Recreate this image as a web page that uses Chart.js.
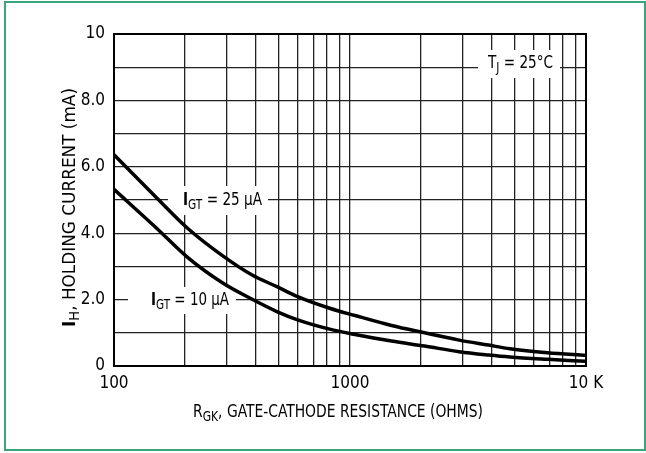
<!DOCTYPE html>
<html>
<head>
<meta charset="utf-8">
<script src="https://cdn.jsdelivr.net/npm/chart.js@4.4.1/dist/chart.umd.min.js"></script>
<style>
  html, body { margin: 0; padding: 0; background: #fff; }
  #wrap { position: relative; width: 646px; height: 453px; }
</style>
</head>
<body>
<div id="wrap"><canvas id="holdChart" width="646" height="453"></canvas></div>
<script>
// gate-cathode resistance (ohms)
const rgk = [100, 150, 205, 290, 385, 490, 600, 820, 1050, 1500, 2070, 2900, 3860, 4760, 6860, 10000];
// holding current (mA), one array per gate trigger current
const ih25 = [6.36, 5.1, 4.15, 3.31, 2.74, 2.39, 2.09, 1.74, 1.52, 1.22, 1.0, 0.78, 0.63, 0.52, 0.4, 0.32];
const ih10 = [5.32, 4.18, 3.27, 2.49, 2.01, 1.64, 1.39, 1.11, 0.95, 0.75, 0.6, 0.43, 0.33, 0.27, 0.2, 0.14];
// grid values on the log axis and labelled ones
const xGrid = [100, 200, 300, 400, 500, 600, 700, 800, 900, 1000, 2000, 3000, 4000, 5000, 6000, 7000, 8000, 9000, 10000];
const xLabels = { 100: '100', 1000: '1000', 10000: '10 K' };
const yLabels = { 0: '0', 2: '2.0', 4: '4.0', 6: '6.0', 8: '8.0', 10: '10' };

const FONT = "'Liberation Sans Narrow', 'DejaVu Sans Condensed', 'Arial Narrow', sans-serif";

function pts(ys) {
  return rgk.map((r, i) => ({ x: r, y: ys[i] }));
}

function partFont(p, size) {
  return (p.bold ? '900 ' : '') + (p.sub ? size * 0.78 : size) + 'px ' + FONT;
}

// text pieces drawn left to right from x, squeezed to width w (condensed look)
function drawRich(ctx, parts, x, y, size, w) {
  let nat = 0;
  for (const p of parts) {
    ctx.font = partFont(p, size);
    nat += ctx.measureText(p.t).width;
  }
  const k = w ? w / nat : 1;
  ctx.save();
  ctx.translate(x, y);
  ctx.scale(k, 1);
  ctx.textBaseline = 'middle';
  ctx.textAlign = 'left';
  let cx = 0;
  for (const p of parts) {
    ctx.font = partFont(p, size);
    ctx.fillText(p.t, cx, p.sub ? size * 0.3 : 0);
    cx += ctx.measureText(p.t).width;
  }
  ctx.restore();
}

const annotate = {
  id: 'annotate',
  beforeDatasetsDraw(chart) {
    const ctx = chart.ctx;
    ctx.save();
    ctx.fillStyle = '#fff';
    ctx.fillRect(478, 50, 82, 28);
    ctx.fillRect(168, 186, 100, 29);
    ctx.fillRect(128, 287, 108, 27);
    ctx.fillStyle = '#000';
    drawRich(ctx, [{ t: 'T' }, { t: 'J', sub: true }, { t: ' = 25°C' }], 488, 63, 18, 65);
    drawRich(ctx, [{ t: 'I', bold: true }, { t: 'GT', sub: true }, { t: ' = 25 µA' }], 183, 200, 18, 79);
    drawRich(ctx, [{ t: 'I', bold: true }, { t: 'GT', sub: true }, { t: ' = 10 µA' }], 151, 300, 18, 78);
    ctx.restore();
  },
  afterDatasetsDraw(chart) {
    const ctx = chart.ctx;
    const a = chart.chartArea;
    ctx.save();
    ctx.strokeStyle = '#000';
    ctx.lineWidth = 2;
    ctx.strokeRect(a.left, a.top, a.right - a.left, a.bottom - a.top);
    ctx.restore();
  },
  afterDraw(chart) {
    const ctx = chart.ctx;
    ctx.save();
    // outer green frame
    ctx.strokeStyle = '#3aa57a';
    ctx.lineWidth = 2;
    ctx.strokeRect(5, 2, 640, 448);
    ctx.fillStyle = '#000';
    // x axis title
    drawRich(ctx, [{ t: 'R' }, { t: 'GK', sub: true }, { t: ', GATE-CATHODE RESISTANCE (OHMS)' }], 193, 412, 18.5, 290);
    // y axis title
    ctx.translate(70, 0);
    ctx.rotate(-Math.PI / 2);
    drawRich(ctx, [{ t: 'I', bold: true }, { t: 'H', sub: true }, { t: ', HOLDING CURRENT (mA)' }], -327, 0, 18.5, 239);
    ctx.restore();
  }
};

const ctx = document.getElementById('holdChart').getContext('2d');
new Chart(ctx, {
  type: 'line',
  data: {
    datasets: [
      {
        label: 'IGT = 25 µA',
        data: pts(ih25),
        borderColor: '#000',
        borderWidth: 3.5,
        pointRadius: 0,
        cubicInterpolationMode: 'monotone'
      },
      {
        label: 'IGT = 10 µA',
        data: pts(ih10),
        borderColor: '#000',
        borderWidth: 3.5,
        pointRadius: 0,
        cubicInterpolationMode: 'monotone'
      }
    ]
  },
  options: {
    responsive: false,
    animation: false,
    devicePixelRatio: 1,
    layout: { padding: { left: 0, right: 60, top: 34, bottom: 0 } },
    plugins: { legend: { display: false }, tooltip: { enabled: false } },
    scales: {
      x: {
        type: 'logarithmic',
        min: 100,
        max: 10000,
        afterBuildTicks(scale) {
          scale.ticks = xGrid.map(v => ({ value: v }));
        },
        afterFit(scale) { scale.height = 87; },
        grid: { color: '#222', lineWidth: 1.3, drawTicks: false },
        border: { display: false },
        ticks: {
          autoSkip: false,
          maxRotation: 0,
          padding: 7,
          color: '#000',
          font: { family: FONT, size: 17 },
          callback: v => xLabels[v] || ''
        }
      },
      y: {
        min: 0,
        max: 10,
        afterFit(scale) { scale.width = 114; },
        grid: { color: '#222', lineWidth: 1.3, drawTicks: false },
        border: { display: false },
        ticks: {
          stepSize: 1,
          autoSkip: false,
          padding: 9,
          color: '#000',
          font: { family: FONT, size: 17 },
          callback: v => yLabels[v] || ''
        }
      }
    }
  },
  plugins: [annotate]
});
</script>
</body>
</html>
